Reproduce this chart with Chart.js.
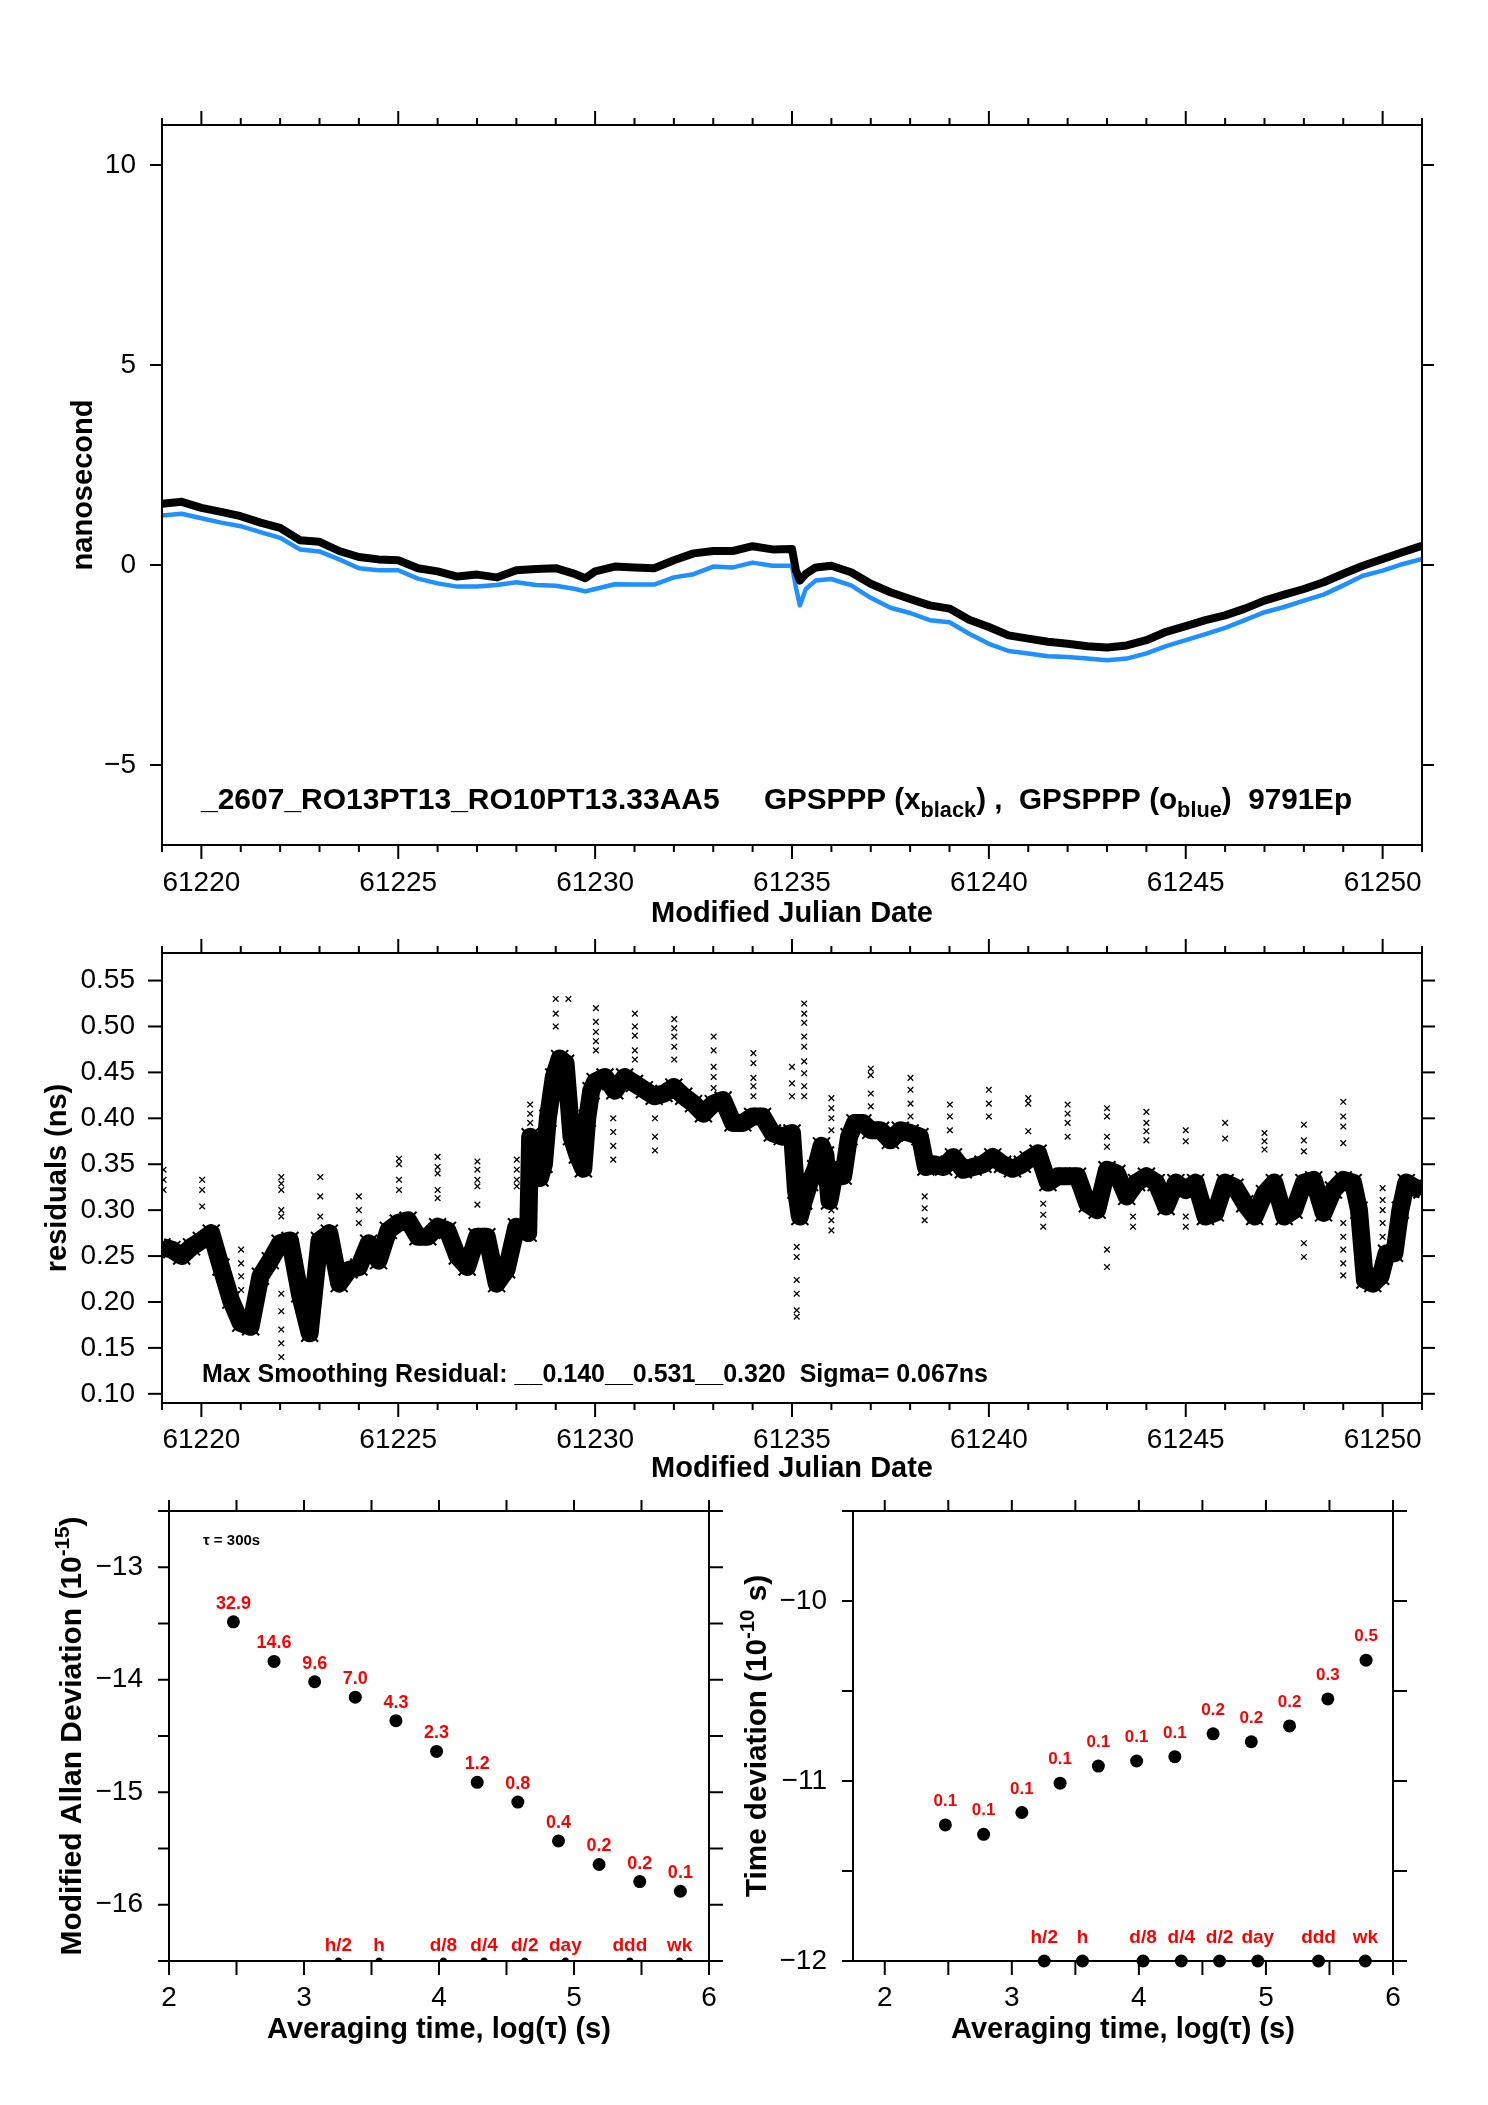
<!DOCTYPE html>
<html><head><meta charset="utf-8">
<script src="https://cdn.jsdelivr.net/npm/chart.js@4.4.0/dist/chart.umd.min.js"></script>
<style>
html,body{margin:0;padding:0;background:#fff;}
body{width:1488px;height:2105px;position:relative;overflow:hidden;}
canvas{position:absolute;}
</style></head><body>
<canvas id="cTop" width="1488" height="940" style="left:0;top:0;width:1488px;height:940px"></canvas>
<canvas id="cRes" width="1488" height="580" style="left:0;top:920px;width:1488px;height:580px"></canvas>
<canvas id="cAdev" width="730" height="625" style="left:0;top:1480px;width:730px;height:625px"></canvas>
<canvas id="cTdev" width="758" height="625" style="left:730px;top:1480px;width:758px;height:625px"></canvas>
<script>
// ---------------- DATA ----------------
// Top panel: clock offsets (ns) vs MJD
const phaseDays = [61219.0,61219.5,61220.0,61220.5,61221.0,61221.5,61222.0,61222.5,61223.0,61223.5,61224.0,61224.5,61225.0,61225.5,61226.0,61226.5,61227.0,61227.5,61228.0,61228.5,61229.0,61229.5,61229.75,61230.0,61230.5,61231.0,61231.5,61232.0,61232.5,61233.0,61233.5,61234.0,61234.5,61235.0,61235.1,61235.2,61235.35,61235.6,61236.0,61236.5,61237.0,61237.5,61238.0,61238.5,61239.0,61239.5,61240.0,61240.5,61241.0,61241.5,61242.0,61242.5,61243.0,61243.5,61244.0,61244.5,61245.0,61245.5,61246.0,61246.5,61247.0,61247.5,61248.0,61248.5,61249.0,61249.5,61250.0,61250.5,61251.0];
const blackNs = [1.53,1.58,1.43,1.33,1.22,1.06,0.93,0.62,0.58,0.35,0.20,0.14,0.12,-0.08,-0.16,-0.29,-0.24,-0.31,-0.13,-0.10,-0.08,-0.23,-0.33,-0.16,-0.04,-0.06,-0.08,0.12,0.29,0.35,0.35,0.47,0.39,0.40,-0.14,-0.39,-0.22,-0.06,-0.02,-0.18,-0.47,-0.68,-0.85,-1.01,-1.09,-1.37,-1.55,-1.76,-1.84,-1.92,-1.97,-2.03,-2.06,-2.01,-1.88,-1.67,-1.53,-1.38,-1.26,-1.09,-0.89,-0.74,-0.60,-0.43,-0.22,-0.02,0.15,0.32,0.48];
const blueNs = [1.24,1.28,1.17,1.06,0.97,0.82,0.68,0.39,0.34,0.14,-0.08,-0.13,-0.13,-0.34,-0.46,-0.54,-0.54,-0.50,-0.43,-0.50,-0.52,-0.60,-0.66,-0.60,-0.48,-0.49,-0.49,-0.31,-0.23,-0.04,-0.06,0.06,-0.02,-0.02,-0.56,-1.01,-0.60,-0.39,-0.35,-0.51,-0.82,-1.07,-1.20,-1.38,-1.43,-1.72,-1.97,-2.15,-2.21,-2.28,-2.30,-2.34,-2.38,-2.34,-2.21,-2.03,-1.88,-1.73,-1.57,-1.38,-1.18,-1.05,-0.89,-0.74,-0.51,-0.27,-0.14,0.02,0.15];

// Middle panel: smoothing residuals (ns)
const resDays = [61219.0,61219.25,61219.5,61219.75,61220.0,61220.25,61220.5,61220.75,61221.0,61221.25,61221.5,61221.75,61222.0,61222.25,61222.5,61222.75,61223.0,61223.25,61223.5,61223.75,61224.0,61224.25,61224.5,61224.75,61225.0,61225.25,61225.5,61225.75,61226.0,61226.25,61226.5,61226.75,61227.0,61227.25,61227.5,61227.75,61228.0,61228.25,61228.3,61228.35,61228.45,61228.6,61228.7,61228.8,61228.95,61229.1,61229.25,61229.4,61229.55,61229.7,61229.8,61229.9,61230.0,61230.25,61230.5,61230.75,61231.0,61231.25,61231.5,61231.75,61232.0,61232.25,61232.5,61232.75,61233.0,61233.25,61233.5,61233.75,61234.0,61234.25,61234.5,61234.75,61235.0,61235.1,61235.2,61235.3,61235.45,61235.6,61235.75,61235.85,61235.95,61236.1,61236.3,61236.45,61236.6,61236.8,61237.0,61237.25,61237.5,61237.75,61238.0,61238.25,61238.4,61238.6,61238.85,61239.1,61239.35,61239.6,61239.85,61240.1,61240.35,61240.6,61240.85,61241.0,61241.25,61241.5,61241.75,61242.0,61242.25,61242.5,61242.75,61243.0,61243.25,61243.5,61243.75,61244.0,61244.25,61244.5,61244.75,61245.0,61245.25,61245.5,61245.75,61246.0,61246.25,61246.5,61246.75,61247.0,61247.25,61247.5,61247.75,61248.0,61248.25,61248.5,61248.75,61249.0,61249.25,61249.4,61249.55,61249.75,61249.95,61250.1,61250.3,61250.45,61250.6,61250.8,61251.0];
const resNs = [0.260,0.257,0.250,0.260,0.267,0.275,0.238,0.202,0.177,0.173,0.228,0.245,0.264,0.267,0.209,0.166,0.267,0.275,0.220,0.235,0.238,0.264,0.245,0.278,0.286,0.289,0.271,0.271,0.282,0.278,0.250,0.238,0.271,0.271,0.220,0.235,0.282,0.278,0.275,0.380,0.360,0.335,0.350,0.400,0.445,0.465,0.460,0.380,0.360,0.345,0.400,0.430,0.440,0.445,0.430,0.445,0.438,0.431,0.424,0.427,0.434,0.424,0.416,0.405,0.416,0.420,0.395,0.395,0.402,0.402,0.384,0.380,0.384,0.322,0.293,0.310,0.330,0.345,0.370,0.360,0.310,0.344,0.337,0.380,0.395,0.395,0.387,0.387,0.376,0.387,0.384,0.380,0.347,0.350,0.347,0.358,0.344,0.347,0.350,0.358,0.350,0.345,0.350,0.355,0.362,0.330,0.337,0.337,0.337,0.307,0.300,0.344,0.340,0.315,0.330,0.337,0.330,0.304,0.330,0.322,0.330,0.293,0.297,0.330,0.325,0.307,0.293,0.318,0.330,0.293,0.300,0.330,0.333,0.297,0.322,0.333,0.330,0.300,0.224,0.220,0.228,0.253,0.253,0.300,0.330,0.325,0.322];
// Scattered outlier streaks (one MJD per streak, list of values)
const outDays = [61219.04,61220.02,61221.01,61222.03,61223.02,61224.0,61225.02,61226.0,61227.01,61228.01,61228.35,61229.0,61229.32,61230.02,61230.46,61231.01,61231.52,61232.01,61233.01,61234.02,61235.0,61235.12,61235.31,61236.0,61237.0,61238.01,61238.37,61239.01,61240.0,61241.0,61241.38,61242.0,61243.0,61243.66,61244.0,61245.0,61246.0,61247.0,61248.0,61249.0,61250.0];
const outVals = [[0.344,0.333,0.322],[0.333,0.322,0.304],[0.257,0.242,0.228,0.213],[0.336,0.329,0.322,0.300,0.293,0.209,0.19,0.17,0.155,0.14],[0.336,0.315,0.293],[0.315,0.30,0.286],[0.356,0.35,0.333,0.322],[0.358,0.347,0.34,0.322,0.313],[0.353,0.344,0.333,0.326,0.306],[0.355,0.344,0.333,0.326],[0.415,0.405,0.395],[0.53,0.514,0.50],[0.53,0.438,0.416,0.395],[0.52,0.505,0.494,0.484,0.474],[0.40,0.385,0.37,0.355],[0.514,0.50,0.49,0.474,0.464],[0.40,0.38,0.365],[0.508,0.498,0.489,0.478,0.464],[0.489,0.474,0.456,0.445,0.433],[0.471,0.46,0.444,0.435,0.424],[0.456,0.438,0.424],[0.351,0.26,0.249,0.224,0.209,0.191,0.184],[0.525,0.514,0.504,0.489,0.478,0.462,0.449,0.435,0.424],[0.422,0.411,0.40,0.387,0.30,0.289,0.278],[0.454,0.447,0.427,0.413],[0.444,0.431,0.416,0.402],[0.315,0.302,0.289],[0.415,0.402,0.387],[0.431,0.416,0.402],[0.422,0.416,0.386],[0.307,0.295,0.282],[0.415,0.405,0.395,0.38],[0.411,0.402,0.38,0.369,0.257,0.238],[0.293,0.282],[0.407,0.395,0.386,0.376],[0.387,0.375,0.293,0.282],[0.395,0.378],[0.384,0.375,0.366],[0.393,0.376,0.364,0.264,0.249],[0.418,0.402,0.391,0.373,0.286,0.271,0.257,0.242,0.229],[0.324,0.311,0.30,0.286,0.271]];

// Bottom panels: stability vs log10(tau)
const logTau = [2.477,2.778,3.079,3.380,3.681,3.982,4.283,4.584,4.885,5.186,5.487,5.788];
const modAdev = [-13.485,-13.837,-14.018,-14.155,-14.364,-14.637,-14.912,-15.087,-15.433,-15.642,-15.794,-15.880];
const adevNotes = ['32.9','14.6','9.6','7.0','4.3','2.3','1.2','0.8','0.4','0.2','0.2','0.1'];
const tdev = [-11.244,-11.296,-11.175,-11.012,-10.917,-10.889,-10.865,-10.738,-10.782,-10.694,-10.544,-10.329];
const tdevNotes = ['0.1','0.1','0.1','0.1','0.1','0.1','0.1','0.2','0.2','0.2','0.3','0.5'];
const markTau = [3.255,3.556,4.033,4.334,4.635,4.936,5.414,5.782];
const markNames = ['h/2','h','d/8','d/4','d/2','day','ddd','wk'];

// Tick labels
const mjdLabels = [61220,61225,61230,61235,61240,61245,61250];
const nsLabels = [10,5,0,-5];
const resLabels = [0.10,0.15,0.20,0.25,0.30,0.35,0.40,0.45,0.50,0.55];
const tauLabels = [2,3,4,5,6];
const adevLabels = [-13,-14,-15,-16];
const tdevLabels = [-10,-11,-12];

// ---------------- HELPERS ----------------
const F = '"Liberation Sans", Arial, Helvetica, sans-serif';
const pts = (xs, ys) => xs.map((x, i) => ({x: x, y: ys[i]}));
const minus = v => (v < 0 ? '\u2212' + String(Math.abs(v)) : String(v));

function line(ctx, x1, y1, x2, y2) { ctx.beginPath(); ctx.moveTo(x1, y1); ctx.lineTo(x2, y2); ctx.stroke(); }

function richWidth(ctx, parts) {
  let w = 0;
  parts.forEach(p => { ctx.font = p.f; w += ctx.measureText(p.t).width; });
  return w;
}
function drawRich(ctx, parts, x, y, align, target) {
  const w = richWidth(ctx, parts);
  const s = target ? target / w : 1;
  ctx.save();
  ctx.translate(x, y);
  ctx.scale(s, 1);
  let cx = align === 'center' ? -w / 2 : 0;
  ctx.textAlign = 'left';
  parts.forEach(p => {
    ctx.font = p.f;
    ctx.fillStyle = p.c || '#000';
    ctx.fillText(p.t, cx, p.dy || 0);
    cx += ctx.measureText(p.t).width;
  });
  ctx.restore();
}
function drawVTitle(ctx, parts, cx, cy, target) {
  ctx.save();
  ctx.translate(cx, cy);
  ctx.rotate(-Math.PI / 2);
  ctx.textBaseline = 'middle';
  drawRich(ctx, parts, 0, 0, 'center', target);
  ctx.restore();
}

function frameAndTicks(chart, spec) {
  const ctx = chart.ctx, a = chart.chartArea, sx = chart.scales.x, sy = chart.scales.y;
  ctx.save();
  ctx.strokeStyle = '#000';
  ctx.lineWidth = 2;
  ctx.strokeRect(a.left, a.top, a.right - a.left, a.bottom - a.top);
  spec.xTicks.forEach(t => {
    const px = sx.getPixelForValue(t.v);
    if (t.top) line(ctx, px, a.top, px, a.top - t.top);
    if (t.bottom) line(ctx, px, a.bottom, px, a.bottom + t.bottom);
  });
  spec.yTicks.forEach(t => {
    const py = sy.getPixelForValue(t.v);
    if (t.left) line(ctx, a.left - t.left, py, a.left, py);
    if (t.right) line(ctx, a.right, py, a.right + t.right, py);
  });
  ctx.fillStyle = '#000';
  ctx.font = '28px ' + F;
  ctx.textBaseline = 'middle';
  ctx.textAlign = 'center';
  spec.xLabels.forEach(v => ctx.fillText(spec.xFmt(v), sx.getPixelForValue(v), a.bottom + spec.xLabelDy));
  ctx.textAlign = 'right';
  spec.yLabels.forEach(v => ctx.fillText(spec.yFmt(v), a.left - spec.yLabelDx, sy.getPixelForValue(v)));
  ctx.textBaseline = 'middle';
  if (spec.xTitle) drawRich(ctx, spec.xTitle, (a.left + a.right) / 2, a.bottom + spec.xTitleDy, 'center', spec.xTitleW);
  if (spec.yTitle) drawVTitle(ctx, spec.yTitle, spec.yTitleX, (a.top + a.bottom) / 2, spec.yTitleW);
  if (spec.extra) spec.extra(ctx, chart);
  ctx.restore();
}

function baseOptions(pad, xmin, xmax, ymin, ymax) {
  return {
    responsive: false, animation: false, devicePixelRatio: 1,
    layout: {padding: pad},
    scales: {
      x: {type: 'linear', min: xmin, max: xmax, display: false},
      y: {type: 'linear', min: ymin, max: ymax, display: false}
    },
    plugins: {legend: {display: false}, tooltip: {enabled: false}},
    events: []
  };
}

const mjdTicks = [];
for (let d = 61219; d <= 61251; d++) mjdTicks.push({v: d, top: d % 5 === 0 ? 14 : 7, bottom: d % 5 === 0 ? 14 : 7});
const B = 'bold ';

// ---------------- TOP PANEL ----------------
new Chart(document.getElementById('cTop'), {
  type: 'scatter',
  data: {datasets: [
    {data: pts(phaseDays, blackNs), showLine: true, borderColor: '#000', borderWidth: 8, pointRadius: 0, borderJoinStyle: 'round', clip: 0},
    {data: pts(phaseDays, blueNs), showLine: true, borderColor: '#1e90ff', borderWidth: 4.5, pointRadius: 0, borderJoinStyle: 'round', clip: 0}
  ]},
  options: baseOptions({left: 162, right: 66, top: 125, bottom: 95}, 61219, 61251, -7, 11),
  plugins: [{id: 'decTop', afterDraw: c => frameAndTicks(c, {
    xTicks: mjdTicks,
    yTicks: nsLabels.map(v => ({v: v, left: 12, right: 12})),
    xLabels: mjdLabels, xFmt: v => String(v), xLabelDy: 38,
    yLabels: nsLabels, yFmt: minus, yLabelDx: 26,
    xTitle: [{t: 'Modified Julian Date', f: B + '29px ' + F}], xTitleDy: 69,
    yTitle: [{t: 'nanosecond', f: B + '29px ' + F}], yTitleX: 84,
    extra: (ctx) => {
      ctx.textBaseline = 'alphabetic';
      drawRich(ctx, [{t: '_2607_RO13PT13_RO10PT13.33AA5', f: B + '30px ' + F}], 201, 809, 'left');
      const big = B + '30px ' + F, sm = B + '22px ' + F;
      drawRich(ctx, [
        {t: 'GPSPPP (x', f: big}, {t: 'black', f: sm, dy: 8},
        {t: ') ,  GPSPPP (o', f: big}, {t: 'blue', f: sm, dy: 8},
        {t: ')  9791Ep', f: big}
      ], 764, 809, 'left', 588);
    }
  })}]
});

// ---------------- RESIDUAL PANEL ----------------
const outPts = [];
outDays.forEach((d, i) => outVals[i].forEach(v => outPts.push({x: d, y: v})));
new Chart(document.getElementById('cRes'), {
  type: 'scatter',
  data: {datasets: [
    {data: pts(resDays, resNs), showLine: true, borderColor: '#000', borderWidth: 18, borderJoinStyle: 'round', borderCapStyle: 'butt',
     pointStyle: 'crossRot', pointRadius: 12, pointBorderWidth: 2, pointBorderColor: '#000', pointBackgroundColor: '#000', clip: 0},
    {data: outPts, pointStyle: 'crossRot', pointRadius: 4, borderWidth: 1.3, borderColor: '#000', backgroundColor: '#000', clip: 0}
  ]},
  options: baseOptions({left: 162, right: 66, top: 33, bottom: 97}, 61219, 61251, 0.09, 0.58),
  plugins: [{id: 'decRes', afterDraw: c => frameAndTicks(c, {
    xTicks: mjdTicks,
    yTicks: resLabels.map(v => ({v: v, left: 14, right: 13})),
    xLabels: mjdLabels, xFmt: v => String(v), xLabelDy: 37,
    yLabels: resLabels, yFmt: v => v.toFixed(2), yLabelDx: 27,
    xTitle: [{t: 'Modified Julian Date', f: B + '29px ' + F}], xTitleDy: 66,
    yTitle: [{t: 'residuals (ns)', f: B + '29px ' + F}], yTitleX: 58,
    extra: (ctx) => {
      ctx.textBaseline = 'alphabetic';
      drawRich(ctx, [{t: 'Max Smoothing Residual: __0.140__0.531__0.320  Sigma= 0.067ns', f: B + '25px ' + F}], 202, 1382 - 920, 'left', 786);
    }
  })}]
});

// ---------------- STABILITY PANELS ----------------
const halfTicks = (a, b) => { const r = []; for (let v = a; v <= b + 1e-9; v += 0.5) r.push(v); return r; };

function stabilityChart(id, pad, xmin, ymin, ymax, vals, notes, noteFont, noteGap, markR, markClip, markGap, yLbls, yTitle, yTitleX, yTitleW, extraText) {
  new Chart(document.getElementById(id), {
    type: 'scatter',
    data: {datasets: [
      {data: pts(logTau, vals), pointRadius: 6.5, pointStyle: 'circle', backgroundColor: '#000', borderColor: '#000', borderWidth: 0, clip: false},
      {data: pts(markTau, markTau.map(() => ymin)), pointRadius: markR, backgroundColor: '#000', borderColor: '#000', borderWidth: 0, clip: markClip}
    ]},
    options: baseOptions(pad, xmin, 6, ymin, ymax),
    plugins: [{id: 'dec' + id, afterDraw: c => frameAndTicks(c, {
      xTicks: halfTicks(2, 6).map(v => ({v: v, top: 11, bottom: 14})),
      yTicks: halfTicks(ymin, ymax).map(v => ({v: v, left: 11, right: 14})),
      xLabels: tauLabels, xFmt: v => String(v), xLabelDy: 37,
      yLabels: yLbls, yFmt: minus, yLabelDx: 26,
      xTitle: [{t: 'Averaging time, log(\u03c4) (s)', f: B + '29px ' + F}], xTitleDy: 69,
      yTitle: yTitle, yTitleX: yTitleX, yTitleW: yTitleW,
      extra: (ctx, ch) => {
        ctx.textAlign = 'center';
        ctx.textBaseline = 'alphabetic';
        ctx.fillStyle = '#ff0000';
        ctx.font = noteFont;
        ch.getDatasetMeta(0).data.forEach((p, i) => ctx.fillText(notes[i], p.x, p.y - noteGap));
        ctx.font = B + '19px ' + F;
        ch.getDatasetMeta(1).data.forEach((p, i) => ctx.fillText(markNames[i], p.x, p.y - markGap));
        if (extraText) extraText(ctx);
      }
    })}]
  });
}

stabilityChart('cAdev', {left: 169, right: 21, top: 31, bottom: 144}, 2, -16.5, -12.5, modAdev, adevNotes,
  B + '18px ' + F, 13, 3.5, 0, 10, adevLabels,
  [{t: 'Modified Allan Deviation (10', f: B + '29px ' + F}, {t: '-15', f: B + '20px ' + F, dy: -10}, {t: ')', f: B + '29px ' + F}],
  73, 439,
  ctx => {
    ctx.fillStyle = '#000';
    ctx.textAlign = 'left';
    ctx.font = B + '15px ' + F;
    ctx.fillText('\u03c4 = 300s', 203, 65);
  });

stabilityChart('cTdev', {left: 123, right: 95, top: 31, bottom: 144}, 1.75, -12, -9.5, tdev, tdevNotes,
  B + '17px ' + F, 19, 6.5, false, 18, tdevLabels,
  [{t: 'Time deviation (10', f: B + '29px ' + F}, {t: '-10', f: B + '20px ' + F, dy: -10}, {t: ' s)', f: B + '29px ' + F}],
  28, 322, null);
</script>
</body></html>
